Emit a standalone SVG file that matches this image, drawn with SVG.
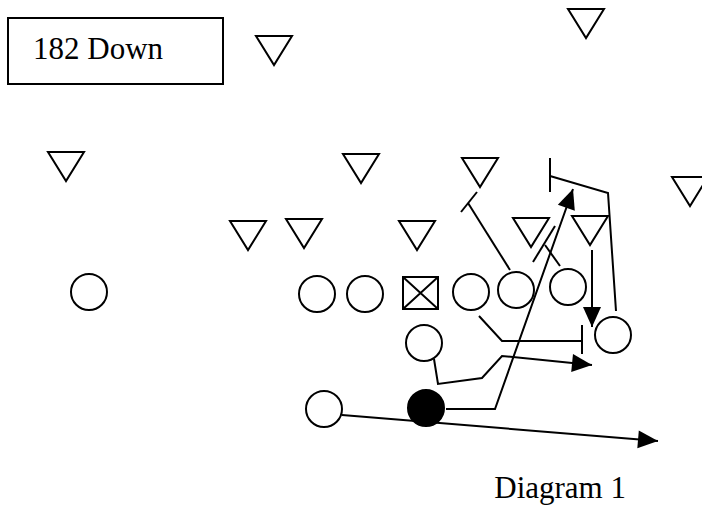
<svg xmlns="http://www.w3.org/2000/svg" width="702" height="506" viewBox="0 0 702 506">
  <style>
    .def { fill: none; stroke: #000; stroke-width: 2; stroke-linejoin: miter; }
    .off { fill: #fff; stroke: #000; stroke-width: 2; }
    .ball { fill: #000; stroke: #000; stroke-width: 2; }
    .route { fill: none; stroke: #000; stroke-width: 2; }
    .lbl { font-family: "Liberation Serif", "Times New Roman", serif; font-size: 31px; fill: #000; }
  </style>
  <defs>
    <marker id="arrow" markerUnits="userSpaceOnUse" markerWidth="20" markerHeight="20" refX="20" refY="9" orient="auto" overflow="visible">
      <path d="M0,0 L20,9 L0,18 Z" fill="#000"/>
    </marker>
    <!-- defender: downward triangle, 36 wide, 29 tall -->
    <path id="tri" d="M0,0 H36 L18,29 Z"/>
  </defs>

  <rect width="702" height="506" fill="#fff"/>

  <!-- title box -->
  <g id="title">
    <rect x="8" y="18" width="215" height="66" fill="#fff" stroke="#000" stroke-width="2"/>
    <text class="lbl" x="33" y="59">182 Down</text>
  </g>

  <!-- defenders -->
  <g id="defense" class="def">
    <use id="d1" href="#tri" x="256" y="36"/>
    <use id="d2" href="#tri" x="568" y="9"/>
    <use id="d3" href="#tri" x="48" y="152"/>
    <use id="d4" href="#tri" x="343" y="154"/>
    <use id="d5" href="#tri" x="462" y="158"/>
    <use id="d6" href="#tri" x="672" y="177"/>
    <use id="d7" href="#tri" x="230" y="221"/>
    <use id="d8" href="#tri" x="286" y="219"/>
    <use id="d9" href="#tri" x="399" y="221"/>
    <use id="d10" href="#tri" x="513" y="218"/>
    <use id="d11" href="#tri" x="572" y="216"/>
  </g>

  <!-- routes and blocks -->
  <g id="connectors" class="route">
    <!-- tight end block -->
    <path d="M510,270 L468,203"/>
    <path d="M461,212 L477,192"/>
    <!-- tackle block -->
    <path d="M560,266 L545,245"/>
    <path d="M533,262 L555,226"/>
    <!-- guard pull -->
    <path d="M479,316 L502,341 H582"/>
    <path d="M582,325 V354"/>
    <!-- wing down route -->
    <path d="M592,250 V327" marker-end="url(#arrow)"/>
    <!-- outside release and block -->
    <path d="M616,311 L608,193 L550,176"/>
    <path d="M550,158 V192"/>
    <!-- back to the flat -->
    <path d="M434,359 L438,384 L482,378 L502,356 L592,365" marker-end="url(#arrow)"/>
    <!-- quarterback -->
    <path d="M446,409 H495 L573,189" marker-end="url(#arrow)"/>
    <!-- deep back -->
    <path d="M342,415 L658,441" marker-end="url(#arrow)"/>
  </g>

  <!-- offense -->
  <g id="offense">
    <circle id="o1" class="off" cx="89" cy="292" r="18"/>
    <circle id="o2" class="off" cx="317" cy="294" r="18"/>
    <circle id="o3" class="off" cx="365" cy="294" r="18"/>
    <g id="center">
      <rect class="off" x="403" y="277" width="35" height="32"/>
      <path d="M403,277 L438,309 M438,277 L403,309" stroke="#000" stroke-width="2"/>
    </g>
    <circle id="o4" class="off" cx="471" cy="292" r="18"/>
    <circle id="o5" class="off" cx="516" cy="290" r="18"/>
    <circle id="o6" class="off" cx="568" cy="287" r="18"/>
    <circle id="o7" class="off" cx="613" cy="335" r="18"/>
    <circle id="o8" class="off" cx="424" cy="343" r="18"/>
    <circle id="o9" class="off" cx="324" cy="409" r="18"/>
    <circle id="qb" class="ball" cx="426" cy="408" r="18"/>
  </g>

  <g id="caption">
    <text class="lbl" x="626" y="498" text-anchor="end">Diagram 1</text>
  </g>
</svg>
